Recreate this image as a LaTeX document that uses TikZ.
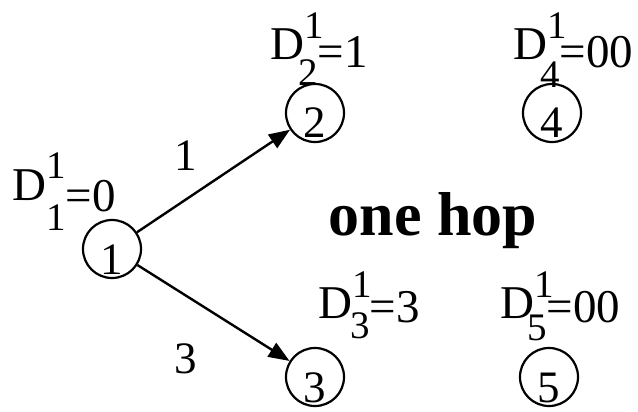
\documentclass[tikz,border=0pt]{standalone}
\usepackage{fontspec}
\setmainfont{Liberation Serif}
\usetikzlibrary{arrows.meta}
\newcommand{\Dlab}[5]{\fontsize{47}{50}\selectfont D\rlap{\raisebox{21pt}{\fontsize{39}{42}\selectfont 1}}\kern#1\raisebox{-#2}{\fontsize{39}{42}\selectfont #4}\raisebox{-#3}{=#5}}
\tikzset{
  vtx/.style={circle, draw, line width=2.2pt, minimum size=58pt, inner sep=0pt, font=\fontsize{45}{50}\selectfont},
  dl/.style={anchor=base west, inner sep=0pt},
  arr/.style={line width=2.4pt, -{Triangle[length=21pt,width=16pt]}},
  wl/.style={anchor=base, inner sep=0pt, font=\fontsize{45}{50}\selectfont}
}
\begin{document}
\begin{tikzpicture}[x=1pt,y=-1pt]
\useasboundingbox (0,0) rectangle (638,412);
\node[vtx] (n1) at (112,249) {\raisebox{-25pt}[0pt][0pt]{1}};
\node[vtx] (n2) at (315,113) {\raisebox{-25pt}[0pt][0pt]{2}};
\node[vtx] (n3) at (315,377) {\raisebox{-25pt}[0pt][0pt]{3}};
\node[vtx] (n4) at (552,113) {\raisebox{-25pt}[0pt][0pt]{4}};
\node[vtx] (n5) at (549,377) {\raisebox{-25pt}[0pt][0pt]{5}};
\draw[arr] (n1) -- (n2);
\draw[arr] (n1) -- (n3);
\node[wl] (w12) at (186,170) {1};
\node[wl] (w13) at (186,373) {3};
\node[dl] (d1) at (12,200) {\Dlab{0pt}{31pt}{11pt}{1}{0}};
\node[dl] (d2) at (270,60) {\Dlab{-6pt}{25pt}{8pt}{2}{1}};
\node[dl] (d3) at (318,318) {\Dlab{-2pt}{20pt}{4pt}{3}{3}};
\node[dl] (d4) at (513,60) {\Dlab{-7pt}{28pt}{8pt}{4}{00}};
\node[dl] (d5) at (500,318) {\Dlab{-7pt}{22pt}{4pt}{5}{00}};
\node[anchor=base, inner sep=0pt, font=\fontsize{62}{66}\selectfont\bfseries] (hop) at (433,235) {one hop};
\end{tikzpicture}
\end{document}
